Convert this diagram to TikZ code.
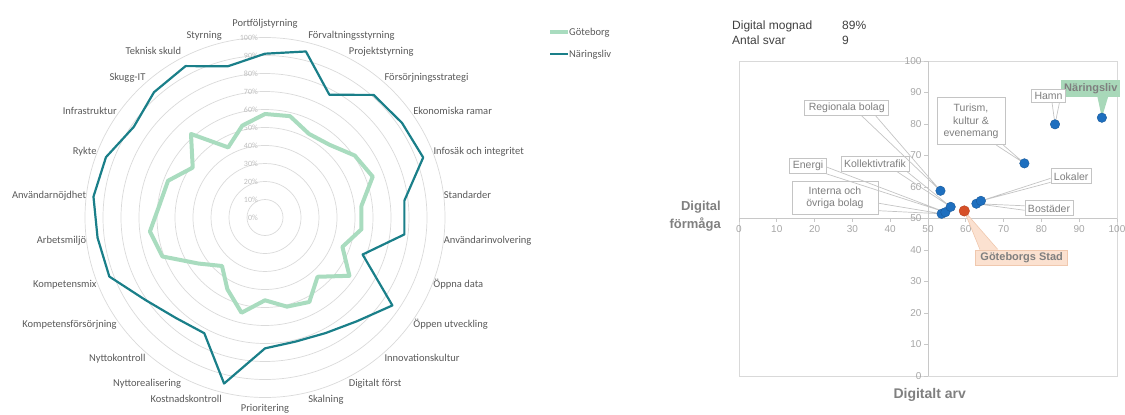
\documentclass[tikz,border=0pt]{standalone}
\usepackage{fontspec}
\setmainfont{Carlito}
\newfontfamily\arialf{Liberation Sans}
\definecolor{gbg}{HTML}{A9DCBF}
\definecolor{nar}{HTML}{1A7F89}
\definecolor{gridc}{HTML}{DADADA}
\definecolor{labc}{HTML}{595959}
\definecolor{pctc}{HTML}{BFBFBF}
\definecolor{framec}{HTML}{D9D9D9}
\definecolor{axisc}{HTML}{C8C8C8}
\definecolor{tickc}{HTML}{A6A6A6}
\definecolor{boxtext}{HTML}{7F7F7F}
\definecolor{boxline}{HTML}{C4C4C4}
\definecolor{dotblue}{HTML}{1E6FBF}
\definecolor{dotred}{HTML}{D64F27}
\definecolor{narfill}{HTML}{A8D8B9}
\definecolor{gsfill}{HTML}{FBE1D0}
\definecolor{gsborder}{HTML}{F0C8AE}
\definecolor{headc}{HTML}{404040}
\definecolor{axtitle}{HTML}{808080}
\begin{document}
\begin{tikzpicture}[x=1pt,y=-1pt,
  grid/.style={draw=gridc, line width=0.7pt},
  gline/.style={draw=gbg, line width=4pt, line join=round},
  nline/.style={draw=nar, line width=2.2pt, line join=round},
  cat/.style={font=\fontsize{10.5}{12}\selectfont, text=labc, inner sep=0pt},
  pct/.style={font=\fontsize{8}{9}\selectfont, text=pctc, inner sep=0pt, anchor=east},
  legtext/.style={font=\fontsize{10.5}{12}\selectfont, text=labc, inner sep=0pt, anchor=base west},
  head/.style={font=\arialf\fontsize{12}{14}\selectfont, text=headc, inner sep=0pt, anchor=base west},
  frame/.style={draw=framec, line width=0.8pt},
  axisl/.style={draw=axisc, line width=0.8pt},
  tickl/.style={font=\arialf\fontsize{10}{12}\selectfont, text=tickc, inner sep=0pt},
  axt/.style={font=\arialf\bfseries\fontsize{13}{18}\selectfont, text=axtitle, inner sep=0pt},
  lbl/.style={draw=boxline, fill=white, line width=0.7pt, font=\arialf\fontsize{10.5}{12.8}\selectfont, text=boxtext, inner xsep=3pt, inner ysep=1.5pt, align=center, minimum height=15pt},
  leader/.style={draw=boxline, line width=0.7pt},
  bold/.style={font=\arialf\bfseries\fontsize{11}{13}\selectfont, text=boxtext, inner xsep=3pt, inner ysep=1.5pt, minimum height=15pt},
  bdot/.style={circle, fill=dotblue, draw=dotblue!80!black, line width=0.4pt, minimum size=9.5pt, inner sep=0pt},
  rdot/.style={circle, fill=dotred, draw=dotred!85!black, line width=0.4pt, minimum size=10.5pt, inner sep=0pt}
]
\useasboundingbox (0,0) rectangle (1125,415);

% ---------------- radar chart ----------------
\begin{scope}[shift={(265,217.5)}]
  \coordinate (ctr) at (0,0);
  \foreach \k in {1,...,10}{
    \draw[grid] (ctr) circle ({\k*18pt});
  }
  \foreach \k in {0,...,10}{
    \pgfmathtruncatemacro\p{\k*10}
    \node[pct] (pct\k) at (-7,{-\k*18}) {\p\%};
  }
  \foreach \v [count=\i from 0] in {57.5,58,52.5,54,60.6,64,54,54,46,57,44,53,51,46,54.5,45,36,45,61,64.4,59,57.6,48.8,62,44,52.6}
    \coordinate (g\i) at ({\i*360/26-90}:{\v*1.8});
  \foreach \v [count=\i from 0] in {91,95,77,91,92.5,94,78,78,58,86,77,72.5,71,72.7,95,72.6,74.6,80.7,92.5,93.7,96,94.5,88.6,93,95,86.5}
    \coordinate (n\i) at ({\i*360/26-90}:{\v*1.8});
  \draw[gline] (g0) \foreach \i in {1,...,25}{ -- (g\i) } -- cycle;
  \draw[nline] (n0) \foreach \i in {1,...,25}{ -- (n\i) } -- cycle;

  \node[cat, anchor=base] (c0) at (0,{-194.5+3.4}) {Portföljstyrning};
  \foreach \t [count=\i from 1] in {Förvaltningsstyrning,Projektstyrning,Försörjningsstrategi,Ekonomiska ramar,Infosäk och integritet,Standarder,Användarinvolvering,Öppna data,Öppen utveckling,Innovationskultur,Digitalt först,Skalning}
    \node[cat, anchor=base west] (c\i) at ({180*sin(\i*360/26)},{-187.5*cos(\i*360/26)+3.4}) {\t};
  \node[cat, anchor=base] (c13) at (0,194) {Prioritering};
  \foreach \t [count=\i from 14] in {Kostnadskontroll,Nyttorealisering,Nyttokontroll,Kompetensförsörjning,Kompetensmix,Arbetsmiljö,Användarnöjdhet,Rykte,Infrastruktur,Skugg-IT,Teknisk skuld,Styrning}
    \node[cat, anchor=base east] (c\i) at ({180*sin(\i*360/26)},{-187.5*cos(\i*360/26)+3.4}) {\t};
\end{scope}

% legend
\coordinate (lg1a) at (550,32); \coordinate (lg1b) at (568,32);
\coordinate (lg2a) at (550,54); \coordinate (lg2b) at (568,54);
\draw[draw=gbg, line width=4pt] (lg1a) -- (lg1b);
\draw[draw=nar, line width=2.2pt] (lg2a) -- (lg2b);
\node[legtext] (leg1) at (569,35.5) {Göteborg};
\node[legtext] (leg2) at (569,57.5) {Näringsliv};

% ---------------- scatter chart ----------------
\node[head] (h1) at (732,29.3) {Digital mognad};
\node[head] (h2) at (842,29.3) {89\%};
\node[head] (h3) at (732,44.3) {Antal svar};
\node[head] (h4) at (842,44.3) {9};

\begin{scope}[shift={(739,376)}, x=3.78pt, y=3.15pt]
  \draw[frame] (0,0) rectangle (100,100);
  \draw[axisl] (50,0) -- (50,100);
  \draw[axisl] (0,50) -- (100,50);
  \foreach \v in {0,10,...,100}{
    \draw[axisl] (49,\v) -- (50,\v);
    \node[tickl, anchor=east] (yt\v) at (48.3,\v) {\v};
    \draw[axisl] (\v,50) -- (\v,48.9);
    \node[tickl] (xt\v) at (\v,46.7) {\v};
  }
  \coordinate (pnar) at (96,82);
  \coordinate (phamn) at (83.6,79.9);
  \coordinate (ptur) at (75.5,67.5);
  \coordinate (preg) at (53.3,58.8);
  \coordinate (plok) at (64,55.6);
  \coordinate (pbos) at (62.8,54.7);
  \coordinate (pkol) at (56,53.7);
  \coordinate (pene) at (54.6,52);
  \coordinate (pint) at (53.6,51.5);
  \coordinate (pgbg) at (59.6,52.4);
\end{scope}

\node[axt, align=right, anchor=east] (ytitle) at (721,216) {Digital\\förmåga};
\node[axt, font=\arialf\bfseries\fontsize{14}{16}\selectfont] (xtitle) at (929.7,395) {Digitalt arv};

% filled callout Näringsliv (behind Hamn)
\node[bold, fill=narfill, minimum width=58pt, minimum height=16.5pt] (lnar) at (1090.8,88.3) {Näringsliv};
\fill[narfill] ([xshift=6.5pt,yshift=0.5pt]lnar.south) -- (pnar) -- ([xshift=17.5pt,yshift=0.5pt]lnar.south) -- cycle;

% labels
\node[lbl, minimum width=84pt] (lreg) at (846.7,108) {Regionala bolag};
\node[lbl] (lkol) at (875,164) {Kollektivtrafik};
\node[lbl] (lene) at (808,166) {Energi};
\node[lbl, minimum width=86pt, minimum height=33pt, inner ysep=3pt] (lint) at (835,197.7) {Interna och\\övriga bolag};
\node[lbl] (llok) at (1071.2,176.3) {Lokaler};
\node[lbl] (lbos) at (1049,208.3) {Bostäder};
\node[lbl, minimum width=68pt, minimum height=47pt, inner ysep=3pt] (ltur) at (971,121.3) {Turism,\\kultur \&\\evenemang};
\node[lbl, minimum height=13pt] (lhamn) at (1048.5,95.5) {Hamn};

% leaders (callout wedges)
\draw[leader] ([xshift=15pt]lreg.south) -- (preg) -- ([xshift=29pt]lreg.south);
\draw[leader] ([xshift=-12pt]lkol.south east) -- (pkol) -- ([xshift=-2pt]lkol.south east);
\draw[leader] ([yshift=-1pt]lene.east) -- (pene) -- (lene.south east);
\draw[leader] ([yshift=-5.5pt]lint.east) -- (pint) -- ([yshift=-13pt]lint.east);
\draw[leader] ([yshift=-2pt]llok.west) -- (plok) -- ([yshift=-6pt]llok.west);
\draw[leader] ([yshift=2.5pt]lbos.west) -- (pbos) -- ([yshift=-2pt]lbos.west);
\draw[leader] ([xshift=-9pt]ltur.south east) -- (ptur) -- ([xshift=-2pt]ltur.south east);
\draw[leader] ([xshift=3.5pt]lhamn.south) -- (phamn) -- ([xshift=11pt]lhamn.south);

% filled callout Göteborgs Stad
\node[bold, fill=gsfill, draw=gsborder, line width=0.6pt, minimum width=92pt] (lgbg) at (1021.7,257.5) {Göteborgs Stad};
\filldraw[fill=gsfill, draw=gsborder, line width=0.6pt] ([xshift=-41.7pt]lgbg.north) -- (pgbg) -- ([xshift=-23.7pt]lgbg.north);
\fill[gsfill] ([xshift=-41.3pt,yshift=-0.6pt]lgbg.north) rectangle ([xshift=-24.1pt,yshift=0.6pt]lgbg.north);

% dots
\node[bdot] (dreg) at (preg) {};
\node[bdot] (dint) at (pint) {};
\node[bdot] (dene) at (pene) {};
\node[bdot] (dkol) at (pkol) {};
\node[bdot] (dbos) at (pbos) {};
\node[bdot] (dlok) at (plok) {};
\node[bdot] (dtur) at (ptur) {};
\node[bdot] (dhamn) at (phamn) {};
\node[bdot] (dnar) at (pnar) {};
\node[rdot] (dgbg) at (pgbg) {};
\end{tikzpicture}
\end{document}
